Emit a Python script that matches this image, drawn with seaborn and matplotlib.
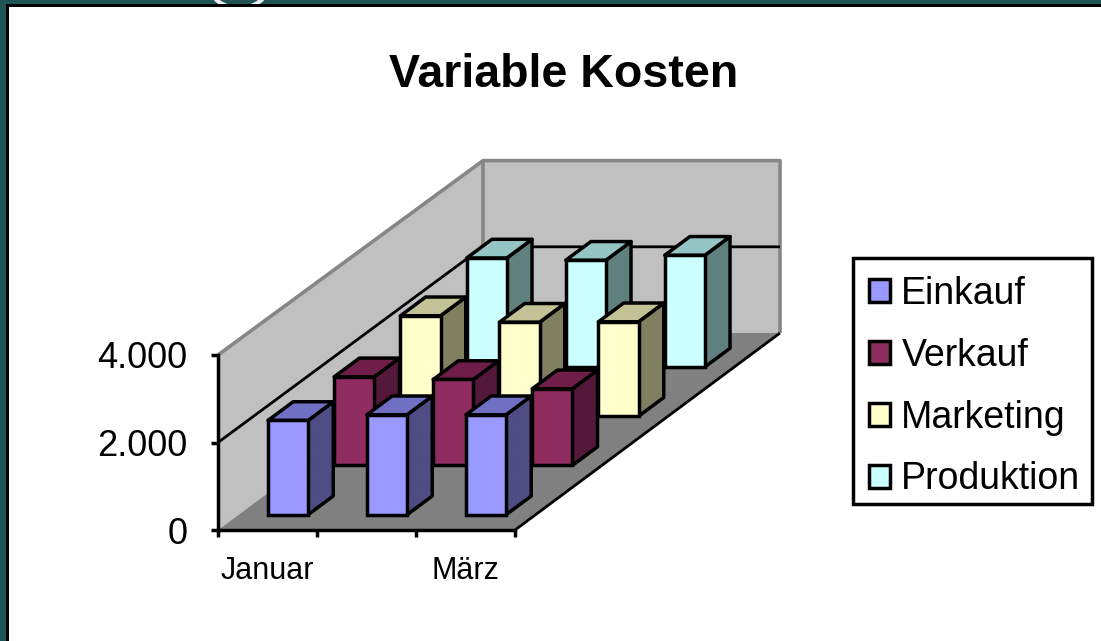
import matplotlib
matplotlib.use("Agg")
import matplotlib.pyplot as plt
from matplotlib.patches import Polygon, Patch, Rectangle, Ellipse
from matplotlib.transforms import Affine2D
import pandas as pd
import seaborn as sns

# ---- data ----
months = ["Januar", "Februar", "März"]
month_labels = ["Januar", "", "März"]
series = ["Einkauf", "Verkauf", "Marketing", "Produktion"]
einkauf = [2155, 2286, 2286]
verkauf = [2027, 1966, 1753]
marketing = [2297, 2149, 2160]
produktion = [2491, 2439, 2553]
y_ticks = [0, 2000, 4000]
y_tick_labels = ["0", "2.000", "4.000"]
title = "Variable Kosten"

# ---- style ----
front_c = ["#9999FF", "#8F2C60", "#FFFFCC", "#CCFFFF"]
top_c = ["#6F6FC4", "#6E1E48", "#C2C296", "#94C4C4"]
side_c = ["#3A3A6C", "#3E0F28", "#808060", "#608080"]
side_dither = ["#4E4E84", "#54193A", None, None]
WALL, FLOOR, EDGE = "#C0C0C0", "#808080", "#868686"
LW = 2.5
W, H = 1101, 641
DEPTH_X = 66.25 / 99.0      # categories per depth unit
DEPTH_Y = 49.25 / 175 * 4000  # value per depth unit
BACK = 0.985                # slight foreshortening of the walls towards the back
BAR_W, D0, D1 = 0.405, 0.31, 0.69

sns.set_theme(style="white", rc={"font.family": ["Liberation Sans", "DejaVu Sans"],
                                 "hatch.linewidth": 1.6})
fig = plt.figure(figsize=(W / 100, H / 100), dpi=100, facecolor="#1F5456")

# window frame behind the chart
bg = fig.add_axes([0, 0, 1, 1], zorder=0)
bg.set_xlim(0, W); bg.set_ylim(H, 0); bg.axis("off")
bg.add_patch(Ellipse((239, -14), 58, 44, fc="none", ec="#EDEDED", lw=3))
bg.add_patch(Rectangle((6, 4), W, H, fc="black", ec="none"))
bg.add_patch(Rectangle((9, 7), W, H, fc="white", ec="none"))
# legend box
bg.add_patch(Rectangle((853, 258), 238.5, 245.5, fc="white", ec="black", lw=LW))

ax = fig.add_axes([218 / W, (H - 530) / H, 297 / W, 175 / H], zorder=1)
ax.patch.set_visible(False)

df = pd.DataFrame({
    "Monat": months * 4,
    "Reihe": [s for s in series for _ in months],
    "Wert": einkauf + verkauf + marketing + produktion,
})
sns.barplot(data=df, x="Monat", y="Wert", hue="Reihe", order=months, hue_order=series,
            palette=front_c, saturation=1, dodge=False, width=BAR_W, edgecolor="black",
            linewidth=LW, legend=False, ax=ax)
ax.set_xlim(-0.5, 2.5)
ax.set_ylim(0, 4000)


def p(x, v, d):
    return (x + d * DEPTH_X, v + d * DEPTH_Y)


def poly(points, fc, ec="none", z=1.0, lw=LW, hatch=None):
    ax.add_patch(Polygon(points, closed=True, fc=fc, ec=ec, lw=lw, zorder=z, hatch=hatch,
                         clip_on=False, joinstyle="round"))


X0, X1, V1, DMAX = -0.5, 2.5, y_ticks[-1], len(series)
VB = V1 * BACK
# walls and floor
poly([p(X0, 0, 0), p(X0, V1, 0), p(X0, VB, DMAX), p(X0, 0, DMAX)], WALL, z=0.5)
poly([p(X0, 0, DMAX), p(X0, VB, DMAX), p(X1, VB, DMAX), p(X1, 0, DMAX)], WALL, z=0.5)
poly([p(X0, 0, 0), p(X1, 0, 0), p(X1, 0, DMAX), p(X0, 0, DMAX)], FLOOR, z=0.6)


def line(points, c, z=0.8, lw=LW):
    xs, ys = zip(*points)
    ax.plot(xs, ys, color=c, lw=lw, zorder=z, clip_on=False, solid_capstyle="butt")


line([p(X0, V1, 0), p(X0, VB, DMAX), p(X1, VB, DMAX), p(X1, 0, DMAX)], EDGE, lw=2.6)
line([p(X0, 0, DMAX), p(X0, VB, DMAX)], EDGE, lw=2.6)
for t in y_ticks[1:-1]:
    line([p(X0, t, 0), p(X0, t * BACK, DMAX), p(X1, t * BACK, DMAX)], "black", lw=2.0)
line([p(X1, 0, 0), p(X1, 0, DMAX)], "black", lw=2.0)

# bars: seaborn's front faces pushed back along the depth axis, plus side and top faces
for i, cont in enumerate(ax.containers):
    base = 10 - i
    d0, d1 = i + D0, i + D1
    for bar in cont:
        x0, x1, v = bar.get_x(), bar.get_x() + bar.get_width(), bar.get_height()
        bar.set_transform(Affine2D().translate(d0 * DEPTH_X, d0 * DEPTH_Y) + ax.transData)
        bar.set_zorder(base + 0.3)
        bar.set_clip_on(False)
        side = [p(x1, 0, d0), p(x1, v, d0), p(x1, v, d1), p(x1, 0, d1)]
        poly(side, side_c[i], "none", base)
        if side_dither[i]:
            poly(side, "none", side_dither[i], base + 0.05, lw=0, hatch="xxxxxxxx")
        poly(side, "none", "black", base + 0.1)
        poly([p(x0, v, d0), p(x1, v, d0), p(x1, v, d1), p(x0, v, d1)], top_c[i], "black", base + 0.2)

# axes
sns.despine(ax=ax, top=True, right=True)
for s in ("left", "bottom"):
    ax.spines[s].set_linewidth(LW)
    ax.spines[s].set_color("black")
    ax.spines[s].set_zorder(20)
ax.set_xlabel(""); ax.set_ylabel("")
ax.set_yticks(y_ticks, y_tick_labels, fontsize=26, color="black")
ax.tick_params(axis="y", length=5, width=LW, color="black", pad=17, left=True)
ax.set_xticks([X0 + k for k in range(4)], [""] * 4)
ax.set_xticks([0, 1, 2], month_labels, minor=True, fontsize=22, color="black")
ax.tick_params(axis="x", which="major", length=5, width=LW, color="black", bottom=True)
ax.tick_params(axis="x", which="minor", length=0, pad=18.5)

fig.text(564 / W, 1 - 75 / H, title, ha="center", va="center", fontsize=33.5,
         fontweight="bold", color="black")

handles = [Patch(fc=c, ec="black", lw=LW) for c in front_c]
leg = fig.legend(handles, series, loc="upper left", bbox_to_anchor=(853 / W, 1 - 260 / H),
                 frameon=False, fontsize=27, labelcolor="black", handlelength=0.57,
                 handleheight=0.57, handletextpad=0.3, labelspacing=0.69,
                 borderpad=0.42, borderaxespad=0)
leg.set_zorder(30)

fig.savefig("out.png", dpi=100, facecolor=fig.get_facecolor())
